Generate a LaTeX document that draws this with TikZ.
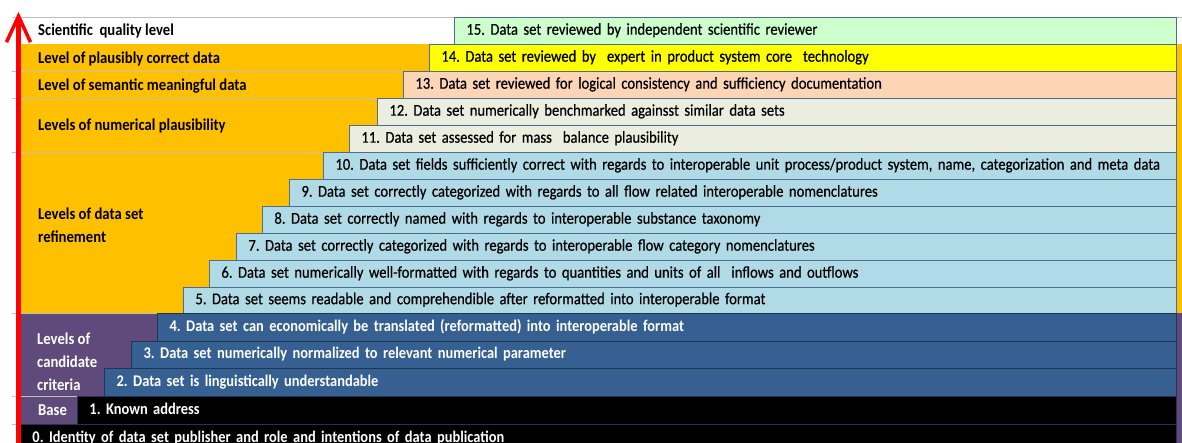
\documentclass[tikz,border=0pt]{standalone}
\usepackage{fontspec}
\setmainfont{Carlito}[FakeStretch=0.885, UprightFeatures={FakeBold=0.5}]
\usetikzlibrary{arrows.meta}

\definecolor{bandorange}{HTML}{FFC000}
\definecolor{bandpurple}{HTML}{604A7B}
\definecolor{fillgreen}{HTML}{CCFFCC}
\definecolor{fillyellow}{HTML}{FFFF00}
\definecolor{fillpeach}{HTML}{FBD5B5}
\definecolor{fillbeige}{HTML}{EBEEDE}
\definecolor{filllightblue}{HTML}{B0DAE6}
\definecolor{filldarkblue}{HTML}{366092}
\definecolor{lineblue}{HTML}{4A6D94}
\definecolor{linenavy}{HTML}{1F3550}
\definecolor{sepgray}{HTML}{BFBFBF}
\definecolor{arrowred}{HTML}{FF0000}

% one level of the staircase: \levelrow{name}{left}{top}{bottom}{style}{text}
\newcommand\levelrow[6]{%
  \pgfmathsetmacro\rowwidth{1176-#2}%
  \pgfmathsetmacro\rowheight{#4-#3}%
  \pgfmathsetmacro\rowtext{1176-#2-24}%
  \node[#5, minimum width=\rowwidth pt, minimum height=\rowheight pt,
        text width=\rowtext pt] (#1) at (#2,#3) {#6};%
}

\begin{document}
\frenchspacing
\begin{tikzpicture}[x=1pt,y=-1pt,
  font=\fontsize{16.5}{19}\selectfont,
  levelbox/.style={draw=lineblue, line width=0.9pt, anchor=north west,
    inner xsep=12pt, inner ysep=0pt, align=left,
    text height=11.5pt, text depth=4pt},
  lightrow/.style={levelbox, text=black},
  darkrow/.style={levelbox, draw=linenavy, line width=1.2pt,
    fill=filldarkblue, text=white, font=\fontsize{16.3}{19}\selectfont\bfseries},
  blackrow/.style={levelbox, draw=linenavy, fill=black, text=white,
    font=\fontsize{16.3}{19}\selectfont\bfseries},
  levellabel/.style={anchor=west, inner sep=0pt, align=left,
    font=\fontsize{16.6}{23}\selectfont\bfseries},
  separator/.style={draw=sepgray, line width=0.8pt}]

\useasboundingbox (0,0) rectangle (1182,443);
\clip (0,0) rectangle (1182,443);

% backgrounds of the label column
\fill[white] (0,0) rectangle (1182,443);
\fill[bandorange] (20,44) rectangle (1182,313);
\fill[bandpurple] (20,313) rectangle (1182,452);

% top rule
\coordinate (topL) at (12,17);
\coordinate (topR) at (1182,17);
\draw[separator] (topL) -- (topR);

% staircase of levels
\levelrow{r15}{454}{17}{44}{lightrow, fill=fillgreen}{15. Data set reviewed by independent scientific reviewer}
\levelrow{r14}{429}{44}{71}{lightrow, fill=fillyellow}{14. Data set reviewed by~ expert in product system core~ technology}
\levelrow{r13}{403}{71}{98}{lightrow, fill=fillpeach}{13. Data set reviewed for logical consistency and sufficiency documentation}
\levelrow{r12}{377}{98}{125}{lightrow, fill=fillbeige}{12. Data set numerically benchmarked againsst similar data sets}
\levelrow{r11}{349}{125}{152}{lightrow, fill=fillbeige}{11. Data set assessed for mass~ balance plausibility}
\levelrow{r10}{323}{152}{179}{lightrow, fill=filllightblue}{10. Data set fields sufficiently correct with regards to interoperable unit process/product system, name, categorization and meta data}
\levelrow{r9}{289}{179}{206}{lightrow, fill=filllightblue}{9. Data set correctly categorized with regards to all flow related interoperable nomenclatures}
\levelrow{r8}{262}{206}{233}{lightrow, fill=filllightblue}{8. Data set correctly named with regards to interoperable substance taxonomy}
\levelrow{r7}{236}{233}{260}{lightrow, fill=filllightblue}{7. Data set correctly categorized with regards to interoperable flow category nomenclatures}
\levelrow{r6}{209}{260}{287}{lightrow, fill=filllightblue}{6. Data set numerically well-formatted with regards to quantities and units of all~ inflows and outflows}
\levelrow{r5}{183}{287}{313}{lightrow, fill=filllightblue}{5. Data set seems readable and comprehendible after reformatted into interoperable format}
\levelrow{r4}{157}{313}{341}{darkrow}{4. Data set can economically be translated (reformatted) into interoperable format}
\levelrow{r3}{131}{341}{368}{darkrow}{3. Data set numerically normalized to relevant numerical parameter}
\levelrow{r2}{104}{368}{396}{darkrow}{2. Data set is linguistically understandable}
\levelrow{r1}{77}{396}{424}{blackrow}{1. Known address}
\levelrow{r0}{20}{424}{452}{blackrow, inner xsep=11pt}{0. Identity of data set publisher and role and intentions of data publication}

% rules between label groups
\draw[separator] (12,71) -- (r13.north west);
\draw[separator] (12,98) -- (r12.north west);
\draw[separator] (12,152) -- (r10.north west);
\draw[separator] (12,313) -- (r4.north west);
\draw[separator] (12,396) -- (r1.north west);
\draw[separator] (12,424) -- (r0.north west);

% group labels
\node[levellabel] (lsci) at (38,31) {Scientific~ quality level};
\node[levellabel] (lplaus) at (38,59) {Level of plausibly correct data};
\node[levellabel] (lsem) at (38,86) {Level of semantic meaningful data};
\node[levellabel] (lnum) at (38,126) {Levels of numerical plausibility};
\node[levellabel] (lrefine) at (38,225) {Levels of data set\\refinement};
\node[levellabel, text=white] (lcand) at (37,362) {Levels of\\candidate\\criteria};
\node[levellabel, text=white] (lbase) at (38,410) {Base};

% quality axis
\coordinate (axisfoot) at (18.5,450);
\coordinate (axistip) at (18.5,12);
\draw[arrowred, line width=4.5pt,
  -{Straight Barb[length=26pt, width=24pt, line width=3.5pt]}] (axisfoot) -- (axistip);

\end{tikzpicture}
\end{document}
